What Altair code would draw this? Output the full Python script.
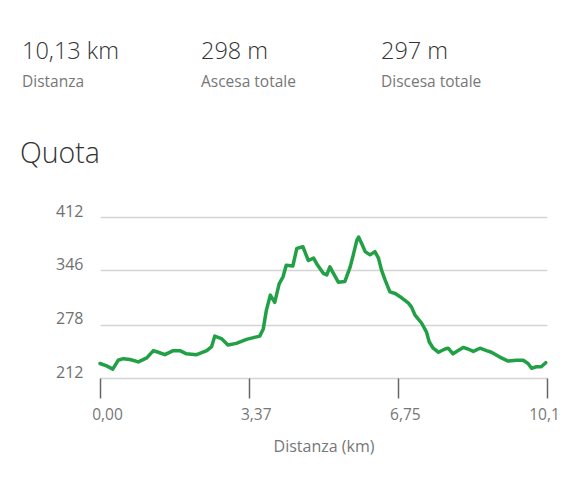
import altair as alt
import pandas as pd

# ---- data ----
dist_km = [0.00, 0.15, 0.29, 0.41, 0.53, 0.68, 0.87, 1.06, 1.21, 1.32, 1.47, 1.66, 1.81, 1.96,
           2.19, 2.42, 2.53, 2.60, 2.75, 2.90, 3.09, 3.32, 3.62, 3.70, 3.77, 3.86, 3.96, 4.06,
           4.15, 4.22, 4.37, 4.46, 4.60, 4.72, 4.84, 4.91, 5.06, 5.14, 5.21, 5.29, 5.40, 5.55,
           5.67, 5.74, 5.82, 5.86, 5.93, 6.01, 6.12, 6.23, 6.31, 6.38, 6.46, 6.57, 6.69, 6.80,
           6.99, 7.06, 7.14, 7.29, 7.40, 7.46, 7.55, 7.67, 7.82, 7.89, 8.00, 8.08, 8.23, 8.34,
           8.46, 8.61, 8.76, 8.87, 9.06, 9.25, 9.44, 9.59, 9.70, 9.78, 9.89, 10.00, 10.10]
elev_m = [230, 227, 223, 234, 236, 235, 232, 237, 246, 244, 241, 246, 246, 242,
          241, 246, 251, 264, 261, 253, 255, 260, 264, 273, 296, 315, 306, 329,
          338, 352, 351, 373, 375, 358, 361, 354, 342, 340, 350, 342, 331, 332,
          350, 365, 383, 387, 379, 369, 365, 369, 361, 346, 334, 319, 317, 313,
          305, 300, 290, 280, 269, 257, 249, 244, 248, 249, 242, 245, 250, 248,
          245, 249, 246, 244, 238, 233, 234, 234, 230, 224, 226, 226, 231]

x_ticks = [0.0, 3.37, 6.75, 10.13]
x_tick_labels = ["0,00", "3,37", "6,75", "10,1"]
y_ticks = [212, 278, 346, 412]

stat_values = ["10,13 km", "298 m", "297 m"]
stat_labels = ["Distanza", "Ascesa totale", "Discesa totale"]
section_title = "Quota"
x_title = "Distanza (km)"

FONT = "Open Sans"

df = pd.DataFrame({"d": dist_km, "e": elev_m})

x_label_expr = ""
for v, l in zip(x_ticks, x_tick_labels):
    x_label_expr += f"abs(datum.value - {v}) < 0.001 ? '{l}' : "
x_label_expr += "''"

line = alt.Chart(df).mark_line(color="#22a045", strokeWidth=3.5, strokeJoin="round",
                               strokeCap="round").encode(
    x=alt.X("d:Q", scale=alt.Scale(domain=[0, 10.13], nice=False, zero=False),
            axis=alt.Axis(values=x_ticks, labelExpr=x_label_expr, title=x_title,
                          grid=False, domain=False, tickSize=20, tickColor="#666",
                          tickWidth=1.5, labelFlush=False, labelBaseline="alphabetic",
                          labelPadding=21,
                          labelOffset={"condition": {"test": "datum.value > 10", "value": -3},
                                       "value": 7},
                          labelFontSize=15.5, labelColor="#777", labelFont=FONT,
                          titleFont=FONT, titleFontSize=16, titleFontWeight="normal",
                          titleColor="#777", titleBaseline="alphabetic", titleY=73)),
    y=alt.Y("e:Q", scale=alt.Scale(domain=[212, 412], nice=False, zero=False),
            axis=alt.Axis(values=y_ticks, title=None, grid=True, gridColor="#d4d4d4",
                          gridWidth=1.5, domain=False, ticks=False, labelPadding=17,
                          labelBaseline="alphabetic", labelOffset=-1, labelFontSize=16,
                          labelColor="#707070", labelFont=FONT)),
)

stats_df = pd.DataFrame({"v": stat_values, "l": stat_labels, "px": [-78, 101, 281]})

big = alt.Chart(stats_df).mark_text(align="left", baseline="alphabetic", font=FONT,
                                    fontSize=23.5, fontWeight=300, color="#333").encode(
    x=alt.X("px:Q", scale=None), y=alt.value(-158.5), text="v:N")
small = alt.Chart(stats_df).mark_text(align="left", baseline="alphabetic", font=FONT,
                                      fontSize=15.5, color="#777").encode(
    x=alt.X("px:Q", scale=None), y=alt.value(-130), text="l:N")
quota = alt.Chart(pd.DataFrame({"t": [section_title]})).mark_text(
    align="left", baseline="alphabetic", font=FONT, fontSize=28.5, fontWeight=300,
    color="#333").encode(x=alt.value(-80), y=alt.value(-54), text="t:N")

chart = alt.layer(line, big, small, quota).properties(
    width=447, height=161,
    autosize=alt.AutoSizeParams(type="none"),
    padding={"left": 92, "top": 209, "right": 31, "bottom": 99},
    background="white",
).configure_view(stroke=None)

chart.save("out.html", embed_options={"renderer": "svg", "actions": False})
